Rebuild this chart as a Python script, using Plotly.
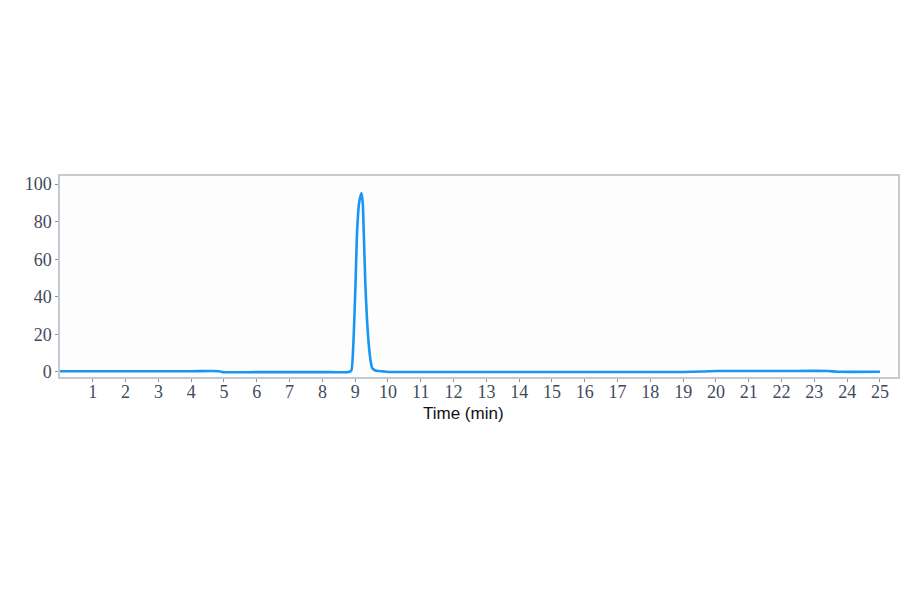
import plotly.graph_objects as go

# chromatogram trace (time in min, signal in %)
time_min = [0.0, 2.0, 4.0, 4.85, 4.95, 6.0, 8.0, 8.80, 8.88, 8.94, 9.01, 9.06,
            9.12, 9.19, 9.23, 9.26, 9.31, 9.36, 9.42, 9.47, 9.52, 9.60, 9.70,
            9.85, 10.0, 12.0, 16.0, 19.0, 19.6, 20.0, 22.0, 23.4, 23.7, 25.0]
signal = [0.4, 0.4, 0.4, 0.4, -0.1, -0.1, -0.1, 0.0, 0.6, 13.5, 47.0, 75.5,
          90.0, 95.2, 90.0, 75.0, 47.0, 28.0, 13.5, 6.0, 2.0, 0.9, 0.5,
          0.3, 0.0, 0.0, 0.0, 0.0, 0.2, 0.5, 0.5, 0.5, 0.1, 0.1]

x_ticks = list(range(1, 26))
y_ticks = [0, 20, 40, 60, 80, 100]

fig = go.Figure()
fig.add_trace(
    go.Scatter(
        x=time_min,
        y=signal,
        mode="lines",
        line={"color": "#1a96f2", "width": 2.6, "shape": "spline", "smoothing": 0.6},
        showlegend=False,
    )
)

tick_font = {"family": "Liberation Serif, serif", "size": 18, "color": "#434a5c"}
axis_style = {
    "tickfont": tick_font,
    "ticks": "outside",
    "ticklen": 3,
    "tickcolor": "#8a8f99",
    "showgrid": False,
    "zeroline": False,
    "showline": True,
    "linecolor": "#c5c9d1",
    "linewidth": 1.5,
    "mirror": True,
    "automargin": False,
}

fig.update_layout(
    width=900,
    height=594,
    paper_bgcolor="#ffffff",
    plot_bgcolor="#fdfdfe",
    margin={"l": 60, "r": 2, "t": 176, "b": 217},
    xaxis={
        **axis_style,
        "range": [0, 25.55],
        "tickvals": x_ticks,
        "ticktext": [str(v) for v in x_ticks],
        "ticklabelstandoff": -5,
    },
    yaxis={
        **axis_style,
        "range": [-2.7, 104.3],
        "tickvals": y_ticks,
    },
    annotations=[
        {
            "text": "Time (min)",
            "xref": "paper",
            "yref": "paper",
            "x": 0.481,
            "y": -0.182,
            "xanchor": "center",
            "yanchor": "middle",
            "showarrow": False,
            "font": {"family": "Liberation Sans, Arial, sans-serif", "size": 17, "color": "#111111"},
        }
    ],
)

# drop the default body margin so the figure sits at the top-left corner of the page
fig.write_html(
    "out.html",
    config={"displayModeBar": False},
    post_script="document.body.style.margin='0';",
)
